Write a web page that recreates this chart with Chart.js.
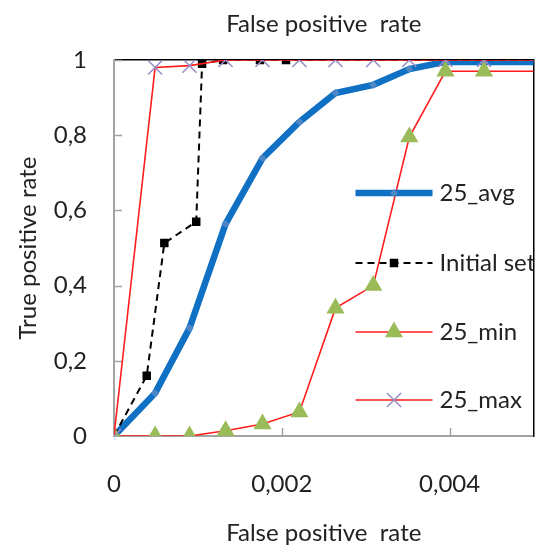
<!DOCTYPE html>
<html>
<head>
<meta charset="utf-8">
<script src="https://cdn.jsdelivr.net/npm/chart.js@4.4.1/dist/chart.umd.min.js"></script>
<style>
    html, body { margin: 0; padding: 0; background: #fff; }
    #wrap { width: 545px; height: 548px; }
</style>
</head>
<body>
<div id="wrap"><canvas id="rocChart" width="545" height="548"></canvas></div>
<script>
        // Data
        const fprSteps = [0, 0.00049, 0.0009, 0.00133, 0.00177, 0.00221, 0.00264, 0.00309, 0.00352, 0.00395, 0.00441, 1];
        const avgTpr = [0, 0.114, 0.287, 0.564, 0.739, 0.835, 0.912, 0.934, 0.976, 0.995, 0.995, 1];
        const minTpr = [0, 0, 0, 0.014, 0.032, 0.064, 0.34, 0.40, 0.795, 0.97, 0.97, 1];
        const maxTpr = [0, 0.98, 0.985, 1, 1, 1, 1, 1, 1, 1, 1, 1];

        const initFpr = [0, 0.00039, 0.0006, 0.00098, 0.00105, 0.0013, 0.00174, 0.00205, 1];
        const initTpr = [0, 0.16, 0.513, 0.57, 0.99, 1, 1, 1, 1];

        const seriesNames = ['25_avg', 'Initial set', '25_min', '25_max'];
        const xTicks = [0, 0.002, 0.004];
        const xTickLabels = ['0', '0,002', '0,004'];
        const yTicks = [0, 0.2, 0.4, 0.6, 0.8, 1];
        const yTickLabels = ['0', '0,2', '0,4', '0,6', '0,8', '1'];

        const FONT = 'Lato, "Open Sans", sans-serif';
        const TEXT = '#222222';
        const AXIS_GRAY = '#a3a3a3';

        function toPoints(xs, ys) {
            return xs.map((x, i) => ({ x: x, y: ys[i] }));
        }

        // Inward tick marks (Excel style)
        const innerTicks = {
            id: 'innerTicks',
            beforeDatasetsDraw(chart) {
                const { ctx, chartArea, scales } = chart;
                ctx.save();
                ctx.strokeStyle = AXIS_GRAY;
                ctx.lineWidth = 1.5;
                yTicks.forEach(v => {
                    if (v === 0) return;
                    const py = Math.round(scales.y.getPixelForValue(v)) + 0.5;
                    ctx.beginPath();
                    ctx.moveTo(chartArea.left, py);
                    ctx.lineTo(chartArea.left + 8, py);
                    ctx.stroke();
                });
                xTicks.forEach(v => {
                    if (v === 0) return;
                    const px = Math.round(scales.x.getPixelForValue(v)) + 0.5;
                    ctx.beginPath();
                    ctx.moveTo(px, chartArea.bottom);
                    ctx.lineTo(px, chartArea.bottom - 8);
                    ctx.stroke();
                });
                ctx.restore();
            }
        };

        // Legend drawn inside the plot, on the right
        const insideLegend = {
            id: 'insideLegend',
            afterDatasetsDraw(chart) {
                const { ctx, chartArea } = chart;
                const x0 = chartArea.right - 178;
                const x1 = chartArea.right - 101;
                const tx = chartArea.right - 94;
                const rows = [193, 263, 332, 400];
                ctx.save();
                // text is clipped by the right border, as in the original
                ctx.beginPath();
                ctx.rect(chartArea.left, chartArea.top, chartArea.right - chartArea.left, chartArea.bottom - chartArea.top);
                ctx.clip();
                seriesNames.forEach((name, i) => {
                    const ds = chart.data.datasets.find(d => d.label === name);
                    const y = rows[i];
                    ctx.save();
                    ctx.strokeStyle = ds.borderColor;
                    ctx.lineWidth = ds.borderWidth;
                    ctx.setLineDash(ds.borderDash || []);
                    ctx.beginPath();
                    ctx.moveTo(x0, y);
                    ctx.lineTo(x1, y);
                    ctx.stroke();
                    ctx.restore();
                    ctx.save();
                    ctx.fillStyle = ds.pointBackgroundColor;
                    ctx.strokeStyle = ds.pointBorderColor;
                    ctx.lineWidth = ds.pointBorderWidth;
                    Chart.helpers.drawPoint(ctx, {
                        pointStyle: ds.pointStyle,
                        radius: ds.pointRadius,
                        rotation: 0,
                        borderWidth: ds.pointBorderWidth
                    }, (x0 + x1) / 2, y);
                    ctx.restore();
                    ctx.fillStyle = TEXT;
                    ctx.font = '24px ' + FONT;
                    ctx.textAlign = 'left';
                    ctx.textBaseline = 'middle';
                    ctx.fillText(name, tx, y);
                });
                ctx.restore();
            }
        };

        const ctxRoc = document.getElementById('rocChart');
        new Chart(ctxRoc, {
            type: 'line',
            data: {
                datasets: [
                    {
                        label: '25_avg',
                        data: toPoints(fprSteps, avgTpr),
                        borderColor: '#0f70c4',
                        borderWidth: 6.5,
                        pointStyle: 'rectRot',
                        pointRadius: 4,
                        pointBackgroundColor: '#4f86c6',
                        pointBorderColor: '#4f86c6',
                        pointBorderWidth: 0,
                        order: 4
                    },
                    {
                        label: 'Initial set',
                        data: toPoints(initFpr, initTpr),
                        borderColor: '#000000',
                        borderWidth: 2,
                        borderDash: [7, 5],
                        pointStyle: 'rect',
                        pointRadius: 6,
                        pointBackgroundColor: '#000000',
                        pointBorderColor: '#000000',
                        pointBorderWidth: 0,
                        order: 3
                    },
                    {
                        label: '25_min',
                        data: toPoints(fprSteps, minTpr),
                        borderColor: '#ff1c1c',
                        borderWidth: 1.6,
                        pointStyle: 'triangle',
                        pointRadius: 10.5,
                        pointBackgroundColor: '#9bbb59',
                        pointBorderColor: '#9bbb59',
                        pointBorderWidth: 0,
                        order: 2
                    },
                    {
                        label: '25_max',
                        data: toPoints(fprSteps, maxTpr),
                        borderColor: '#ff1c1c',
                        borderWidth: 1.6,
                        pointStyle: 'crossRot',
                        pointRadius: 10,
                        pointBackgroundColor: '#9a8cc8',
                        pointBorderColor: '#9a8cc8',
                        pointBorderWidth: 1.5,
                        order: 1
                    }
                ]
            },
            options: {
                responsive: false,
                animation: false,
                tension: 0,
                layout: { padding: 0 },
                plugins: {
                    legend: { display: false },
                    tooltip: { enabled: false }
                },
                scales: {
                    x: {
                        type: 'linear',
                        position: 'bottom',
                        min: 0,
                        max: 0.005,
                        afterBuildTicks: axis => { axis.ticks = xTicks.map(v => ({ value: v })); },
                        afterFit: axis => { axis.height = 112; },
                        grid: { display: false, drawTicks: false },
                        border: { display: true, color: AXIS_GRAY, width: 2 },
                        ticks: {
                            color: TEXT,
                            font: { family: FONT, size: 24 },
                            padding: 34,
                            maxRotation: 0,
                            callback: (v, i) => xTickLabels[i]
                        },
                        title: {
                            display: true,
                            text: 'False positive  rate',
                            color: TEXT,
                            font: { family: FONT, size: 24 },
                            padding: { top: 0, bottom: 0 }
                        }
                    },
                    xTop: {
                        type: 'linear',
                        position: 'top',
                        min: 0,
                        max: 0.005,
                        afterFit: axis => { axis.height = 60; },
                        grid: { display: false, drawTicks: false },
                        border: { display: true, color: '#000000', width: 1.5 },
                        ticks: { display: false },
                        title: {
                            display: true,
                            text: 'False positive  rate',
                            color: TEXT,
                            font: { family: FONT, size: 24 },
                            padding: { top: 10, bottom: 0 }
                        }
                    },
                    y: {
                        type: 'linear',
                        position: 'left',
                        min: 0,
                        max: 1,
                        afterBuildTicks: axis => { axis.ticks = yTicks.map(v => ({ value: v })); },
                        afterFit: axis => { axis.width = 114; },
                        grid: { display: false, drawTicks: false },
                        border: { display: true, color: AXIS_GRAY, width: 2 },
                        ticks: {
                            color: TEXT,
                            font: { family: FONT, size: 24 },
                            padding: 27,
                            callback: (v, i) => yTickLabels[i]
                        },
                        title: {
                            display: true,
                            text: 'True positive rate',
                            color: TEXT,
                            font: { family: FONT, size: 24 },
                            padding: { top: 14, bottom: 0 }
                        }
                    },
                    yRight: {
                        type: 'linear',
                        position: 'right',
                        min: 0,
                        max: 1,
                        afterFit: axis => { axis.width = 4; },
                        grid: { display: false, drawTicks: false },
                        border: { display: true, color: '#000000', width: 1.5 },
                        ticks: { display: false }
                    }
                }
            },
            plugins: [innerTicks, insideLegend]
        });
</script>
</body>
</html>
